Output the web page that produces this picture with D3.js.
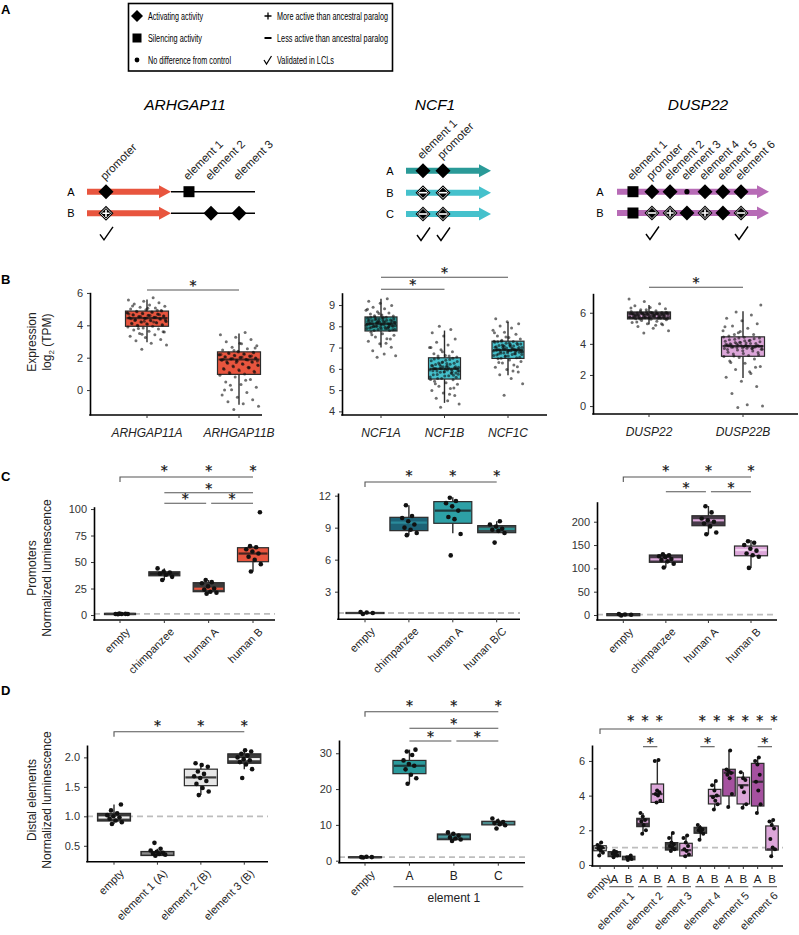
<!DOCTYPE html>
<html>
<head>
<meta charset="utf-8">
<script src="https://cdn.jsdelivr.net/npm/d3@7"></script>
<style>
  body { margin: 0; background: #fff; }
  svg { display: block; font-family: "Liberation Sans", Arial, sans-serif; }
</style>
</head>
<body>
<svg id="fig" width="799" height="935"></svg>
<script>
// ---------- A: locus schematics ----------
const arhRows = ["A", "B"];
const arhSites = ["promoter", "element 1", "element 2", "element 3"];
const arhSitePos = [0.113, 0.607, 0.738, 0.905];     // fraction along locus
const arhGeneEnd = 0.5;
const arhMarks = [["D", "S", "", ""], ["D+", "", "D", "D"]];
const arhChecks = ["promoter"];

const ncfRows = ["A", "B", "C"];
const ncfSites = ["element 1", "promoter"];
const ncfSitePos = [0.2, 0.435];
const ncfMarks = [["D", "D"], ["D-", "D-"], ["D-", "D-"]];
const ncfChecks = ["element 1", "promoter"];

const dusRows = ["A", "B"];
const dusSites = ["element 1", "promoter", "element 2", "element 3", "element 4", "element 5", "element 6"];
const dusSitePos = [0.105, 0.23, 0.349, 0.46, 0.579, 0.697, 0.816];
const dusMarks = [["S", "D", "D", "o", "D", "D", "D"], ["S", "D-", "D+", "D", "D+", "D", "D-"]];
const dusChecks = ["promoter", "element 6"];

// ---------- B: expression (log2 TPM) ----------
const b1Cats = ["ARHGAP11A", "ARHGAP11B"];
const b1Box = [[2.95, 3.94, 4.45, 4.88, 5.6], [-0.9, 0.97, 1.89, 2.36, 3.5]];
const b1Pts = [
  [2.52,2.78,2.9,3.05,3.12,3.24,3.33,3.41,3.5,3.58,3.64,3.71,3.77,3.83,3.9,3.95,4.0,4.04,4.09,4.13,4.18,4.22,4.27,4.31,4.35,4.4,4.43,4.47,4.5,4.54,4.58,4.62,4.66,4.7,4.74,4.78,4.83,4.87,4.91,4.96,5.01,5.07,5.12,5.18,5.25,5.31,5.4,5.48,5.57,5.7,
   3.98,4.02,4.06,4.1,4.15,4.19,4.24,4.29,4.33,4.38,4.42,4.46,4.49,4.53,4.57,4.61,4.64,4.68,4.72,4.76,4.8,4.84,4.88,4.45,4.4,4.5,4.55,4.35,4.6,4.3,4.65,4.25,4.7,4.2,3.8,3.6,5.05,5.2,4.93,3.45],
  [-1.2,-1.0,-0.85,-0.72,-0.6,-0.45,-0.3,-0.15,0.02,0.18,0.35,0.5,0.66,0.8,0.92,1.0,1.08,1.17,1.25,1.33,1.41,1.48,1.55,1.62,1.69,1.75,1.82,1.87,1.9,1.94,1.98,2.02,2.06,2.1,2.15,2.19,2.24,2.29,2.34,2.4,2.47,2.55,2.64,2.74,2.86,2.98,3.12,3.27,3.42,3.55,
   1.02,1.1,1.2,1.28,1.36,1.44,1.52,1.6,1.66,1.72,1.78,1.84,1.88,1.92,1.96,2.0,2.04,2.08,2.12,2.17,2.21,2.26,2.31,2.35,1.9,1.85,1.95,1.8,2.05,1.75,2.1,1.7,2.2,0.6,0.3,2.6,2.9,0.0,1.4,2.45]
];
const b2Cats = ["NCF1A", "NCF1B", "NCF1C"];
const b2Box = [[7.0, 7.78, 8.12, 8.44, 9.3], [4.4, 5.52, 6.0, 6.52, 7.8], [5.7, 6.49, 6.88, 7.3, 8.2]];
const b2Pts = [
  [6.55,6.62,6.7,6.85,7.02,7.18,7.3,7.41,7.5,7.58,7.65,7.72,7.8,7.85,7.9,7.95,7.99,8.03,8.07,8.1,8.12,8.15,8.18,8.22,8.26,8.3,8.34,8.38,8.42,8.44,8.48,8.53,8.58,8.63,8.69,8.75,8.82,8.9,8.98,9.08,9.18,9.3,8.0,8.2,8.3,7.95,8.05,8.25,8.1,7.88,
   7.8,7.84,7.88,7.92,7.96,8.0,8.04,8.08,8.12,8.16,8.2,8.24,8.28,8.32,8.36,8.4,8.43,8.1,8.15,8.05,8.2,8.0,8.25,7.95,8.3,7.9,8.35,7.85,8.4,7.6,7.4,8.6,8.8,7.2,8.5,8.0,8.1,8.15,7.98,8.22],
  [4.2,4.35,4.5,4.62,4.75,4.86,4.98,5.08,5.18,5.27,5.35,5.42,5.49,5.55,5.62,5.68,5.74,5.8,5.86,5.91,5.96,6.02,6.08,6.14,6.2,6.26,6.32,6.38,6.44,6.5,6.56,6.63,6.71,6.8,6.9,7.0,7.12,7.25,7.4,7.55,7.7,7.85,8.0,5.9,6.1,6.0,5.7,6.3,5.5,6.6,
   5.55,5.6,5.66,5.72,5.78,5.84,5.9,5.95,6.0,6.05,6.1,6.16,6.22,6.28,6.34,6.4,6.46,6.5,6.0,5.95,6.05,5.9,6.1,5.85,6.15,5.8,6.2,5.75,6.25,5.3,5.1,6.8,7.0,4.8,6.6,6.0,5.98,6.02,5.88,6.12],
  [4.76,5.3,5.55,5.72,5.85,5.97,6.08,6.18,6.27,6.35,6.42,6.48,6.52,6.58,6.63,6.68,6.73,6.78,6.83,6.87,6.91,6.95,7.0,7.05,7.1,7.15,7.2,7.25,7.29,7.34,7.4,7.47,7.55,7.63,7.72,7.82,7.92,8.02,8.12,8.22,8.35,6.9,7.0,6.8,7.1,6.7,7.2,6.6,7.3,6.95,
   6.5,6.55,6.6,6.65,6.7,6.75,6.8,6.85,6.9,6.94,6.98,7.02,7.07,7.12,7.17,7.22,7.27,6.88,6.92,6.84,6.96,6.8,7.0,6.76,7.04,6.72,7.08,6.68,7.14,6.3,6.1,7.5,7.7,5.9,7.3,6.9,6.86,6.94,6.82,7.06]
];
const b3Cats = ["DUSP22", "DUSP22B"];
const b3Box = [[5.25, 5.6, 5.8, 6.05, 6.5], [1.8, 3.2, 3.85, 4.45, 6.1]];
const b3Pts = [
  [4.7,4.85,5.0,5.12,5.22,5.3,5.38,5.45,5.5,5.55,5.58,5.62,5.65,5.68,5.71,5.74,5.77,5.79,5.81,5.84,5.87,5.9,5.93,5.96,5.99,6.02,6.04,6.08,6.13,6.19,6.26,6.34,6.45,6.58,6.72,6.88,5.8,5.85,5.75,5.9,5.7,5.95,5.65,6.0,5.78,5.82,5.88,5.72,5.92,5.86,
   5.6,5.63,5.66,5.69,5.72,5.75,5.78,5.8,5.83,5.86,5.89,5.92,5.95,5.98,6.01,6.03,5.8,5.76,5.84,5.74,5.86,5.7,5.9,5.68,5.94,5.64,5.97,5.62,6.0,5.4,5.3,6.2,6.3,5.2,6.1,5.8,5.79,5.81,5.77,5.83],
  [-0.1,0.0,0.08,0.8,1.25,1.6,1.85,2.1,2.35,2.55,2.75,2.9,3.02,3.12,3.18,3.25,3.35,3.45,3.55,3.63,3.7,3.77,3.83,3.88,3.95,4.02,4.09,4.16,4.23,4.3,4.37,4.43,4.5,4.6,4.72,4.85,5.0,5.15,5.3,5.48,5.65,5.85,6.05,6.5,3.9,4.0,3.8,4.1,3.7,4.2,
   3.22,3.3,3.38,3.46,3.54,3.6,3.66,3.72,3.78,3.84,3.9,3.96,4.02,4.08,4.14,4.2,4.26,4.32,4.38,4.44,3.85,3.8,3.9,3.75,3.95,3.7,4.0,3.65,4.05,2.8,2.5,4.8,5.1,2.2,4.6,3.85,3.82,3.88,3.78,3.92]
];

// ---------- C: promoters ----------
const c1Cats = ["empty", "chimpanzee", "human A", "human B"];
const c1Box = [[0.2, 0.4, 1, 1.6, 1.8], [33, 37, 39, 40.8, 44], [20, 22, 24.8, 30.5, 33], [41, 50.3, 58, 63.5, 65]];
const c1Pts = [[0.7, 0.9, 1, 1, 1.1, 1.3], [33, 36, 38, 39, 40, 41, 44], [20, 21, 22, 24, 25, 27, 30, 31, 33], [41, 48, 52, 55, 58, 60, 62, 64, 65, 97]];
const c2Cats = ["empty", "chimpanzee", "human A", "human B/C"];
const c2Box = [[0.9, 0.95, 1, 1.05, 1.1], [8.3, 8.72, 9.47, 9.97, 11.1], [8.47, 9.41, 10.6, 11.44, 11.85], [8.5, 8.53, 8.88, 9.19, 9.6]];
const c2Pts = [[0.9, 1, 1.05, 1.1], [8.3, 8.5, 8.8, 9.0, 9.3, 9.6, 9.9, 10.1, 11.1], [6.4, 8.4, 9.8, 10.0, 10.6, 11.0, 11.3, 11.5, 11.8], [7.6, 8.5, 8.7, 8.8, 8.9, 9.1, 9.3, 9.6]];
const c3Cats = ["empty", "chimpanzee", "human A", "human B"];
const c3Box = [[-2, -1.5, 1, 3, 4], [102, 113, 119.3, 128.6, 130], [173, 191.4, 203, 212.8, 233.6], [101, 127, 139.3, 147.9, 160.7]];
const c3Pts = [[-1, 0.5, 1, 2], [102, 110, 115, 118, 120, 124, 126, 128, 130], [173, 177, 190, 196, 200, 203, 207, 220, 233], [101, 125, 128, 132, 138, 142, 150, 155, 158]];

// ---------- D: distal elements ----------
const d1Cats = ["empty", "element 1 (A)", "element 2 (B)", "element 3 (B)"];
const d1Box = [[0.87, 0.92, 0.98, 1.05, 1.2], [0.33, 0.335, 0.37, 0.403, 0.45], [1.36, 1.52, 1.66, 1.8, 1.9], [1.8, 1.9, 1.97, 2.06, 2.12]];
const d1Pts = [[0.87,0.9,0.93,0.96,0.98,1.0,1.02,1.05,1.1,1.2], [0.33,0.35,0.36,0.37,0.38,0.4,0.42,0.45,0.55], [1.36,1.42,1.48,1.55,1.6,1.65,1.68,1.72,1.76,1.84,1.87,1.9], [1.65,1.8,1.88,1.92,1.95,1.97,2.0,2.03,2.06,2.1,2.12]];
const d2Cats = ["empty", "A", "B", "C"];
const d2Box = [[0.8, 0.9, 1, 1.1, 1.2], [21.5, 24.3, 26.5, 28, 31], [5.5, 5.87, 6.7, 7.46, 7.9], [9.9, 10, 10.5, 11, 11.8]];
const d2Pts = [[0.9, 1, 1.1, 1.0], [21.5, 23, 24, 25.5, 26.5, 27, 28, 29.5, 30.5, 31], [5.5, 5.9, 6.2, 6.5, 7.0, 7.5, 7.9], [9.0, 9.9, 10.2, 10.5, 10.8, 11.0, 11.8]];
const d3Elements = ["element 1", "element 2", "element 3", "element 4", "element 5", "element 6"];
const d3Alleles = ["A", "B"];
const d3Cats = ["empty"].concat(...d3Elements.map((e, i) => d3Alleles.map(a => (i + 1) + a)));
const d3Box = [
  [0.55, 0.82, 0.97, 1.11, 1.3], [0.45, 0.48, 0.62, 0.77, 0.8], [0.28, 0.3, 0.38, 0.5, 0.55],
  [1.8, 2.21, 2.5, 2.69, 3.0], [3.6, 3.61, 4.09, 4.67, 6.05], [0.8, 0.86, 1.1, 1.29, 1.85],
  [0.5, 0.52, 0.85, 1.25, 1.7], [1.45, 1.83, 2.0, 2.17, 2.3], [3.2, 3.52, 3.98, 4.36, 4.85],
  [3.35, 3.98, 5.32, 5.52, 6.6], [3.3, 3.52, 4.6, 5.06, 5.35], [3.0, 3.4, 4.8, 5.86, 6.2],
  [0.5, 0.86, 0.9, 2.25, 2.6]
];
const d3Pts = [
  [0.55,0.7,0.85,0.95,1.0,1.05,1.15,1.3], [0.45,0.55,0.6,0.65,0.75,0.8], [0.28,0.35,0.4,0.45,0.55],
  [1.8,2.0,2.3,2.5,2.6,2.8,3.0], [3.6,3.7,4.0,4.1,4.2,4.3,6.0,6.05], [0.8,0.9,1.0,1.1,1.2,1.3,1.55,1.85],
  [0.5,0.6,0.8,0.9,1.1,1.3,1.55,1.7], [1.45,1.8,1.9,2.0,2.05,2.15,2.3], [3.2,3.5,3.7,3.9,4.0,4.3,4.6,4.85],
  [3.35,4.1,5.0,5.2,5.3,5.4,5.5,6.6], [3.3,3.5,4.2,4.5,4.9,5.0,5.35], [3.0,3.5,4.3,4.8,5.2,5.8,6.0,6.2],
  [0.5,0.9,1.0,1.5,2.1,2.3,2.5,2.6]
];

// significance: groups different from "empty", and pairwise [a, b, level]
const b1Pairs = [["ARHGAP11A", "ARHGAP11B", 0]];
const b2Pairs = [["NCF1A", "NCF1C", 0], ["NCF1A", "NCF1B", 1]];
const b3Pairs = [["DUSP22", "DUSP22B", 0]];
const c1VsEmpty = ["chimpanzee", "human A", "human B"];
const c1Pairs = [["chimpanzee", "human B", 1], ["chimpanzee", "human A", 2], ["human A", "human B", 2]];
const c2VsEmpty = ["chimpanzee", "human A", "human B/C"];
const c3VsEmpty = ["chimpanzee", "human A", "human B"];
const c3Pairs = [["chimpanzee", "human A", 1], ["human A", "human B", 1]];
const d1VsEmpty = ["element 1 (A)", "element 2 (B)", "element 3 (B)"];
const d2VsEmpty = ["A", "B", "C"];
const d2Pairs = [["A", "C", 1], ["A", "B", 2], ["B", "C", 2]];
const d3VsEmpty = ["1B", "2A", "2B", "4A", "4B", "5A", "5B", "6A", "6B"];
const d3Pairs = [["2A", "2B", 1], ["4A", "4B", 1], ["6A", "6B", 1]];

// colours
const RED = "#e8553e", TEAL_D = "#2a9a98", TEAL_L = "#45c1cc", PURPLE = "#b76bb6",
      PINK = "#dca6d9", PURPLE_M = "#a5519f", DARK = "#3b3b3b", INK = "#2b2b2b";

const svg = d3.select("#fig");

// ------------------------------------------------------------------ helpers
const jit = j => ((j * 0.6180339887 + 0.37) % 1) - 0.5;

// a hairline stroke makes the glyph render as a path (plain grey antialiasing)
function star(g, x, yc) {
  g.append("text").attr("x", x).attr("y", yc + 7.3)
    .attr("text-anchor", "middle").attr("font-family", "DejaVu Sans")
    .attr("font-size", 14).attr("fill", "#111")
    .attr("stroke", "#111").attr("stroke-width", 0.25).text("*");
}

function hbar(g, x1, x2, y, tick) {
  const p = tick ? `M${x1},${y + 5}V${y}H${x2}` : `M${x1},${y}H${x2}`;
  g.append("path").attr("d", p).attr("fill", "none").attr("stroke", "#555").attr("stroke-width", 1.1);
}

function rotLabel(g, txt, x, y, fs) {
  g.append("text").attr("transform", `translate(${x},${y}) rotate(-45)`)
    .attr("text-anchor", "end").attr("dy", "0.71em")
    .attr("font-size", fs).attr("fill", "#222").text(txt);
}

function boxPanel(o) {
  const g = svg.append("g");
  const x = d3.scalePoint().domain(o.cats).range(o.xr);
  const y = d3.scaleLinear().domain(o.yd).range([o.yb, o.yt]);

  if (o.dash != null) {
    g.append("line").attr("x1", o.ax[0]).attr("x2", o.ax[1])
      .attr("y1", y(o.dash)).attr("y2", y(o.dash))
      .attr("stroke", "#bdbdbd").attr("stroke-width", 1.8).attr("stroke-dasharray", "6,4");
  }

  o.cats.forEach((c, i) => {
    const [lo, q1, md, q3, hi] = o.box[i];
    const cx = x(c), w = o.bw;
    g.append("line").attr("x1", cx).attr("x2", cx).attr("y1", y(lo)).attr("y2", y(hi))
      .attr("stroke", INK).attr("stroke-width", 1.4);
    g.append("rect").attr("x", cx - w / 2).attr("y", y(q3))
      .attr("width", w).attr("height", Math.max(1, y(q1) - y(q3)))
      .attr("fill", o.fill[i]).attr("stroke", INK).attr("stroke-width", 1.2);
    g.append("line").attr("x1", cx - w / 2 + 1).attr("x2", cx + w / 2 - 1)
      .attr("y1", y(md)).attr("y2", y(md))
      .attr("stroke", o.med[i]).attr("stroke-width", 2.2);
    g.selectAll(null).data(o.pts[i]).enter().append("circle")
      .attr("cx", (v, j) => cx + jit(j) * o.jw)
      .attr("cy", v => y(v))
      .attr("r", o.r)
      .attr("fill", "#111")
      .attr("fill-opacity", o.op);
  });

  // axes
  const ya = g.append("g").attr("transform", `translate(${o.ax[0]},0)`)
    .call(d3.axisLeft(y).tickValues(o.ticks).tickSize(3).tickPadding(4).tickSizeOuter(0)
      .tickFormat(o.fmt || d3.format("")));
  ya.attr("font-family", null).attr("font-size", 11);
  ya.select(".domain").attr("stroke", "#000").attr("stroke-width", 1.6);
  ya.selectAll(".tick line").attr("stroke", "#333");
  ya.selectAll(".tick text").attr("fill", "#333");

  g.append("line").attr("x1", o.ax[0] - 0.8).attr("x2", o.ax[1])
    .attr("y1", o.yb).attr("y2", o.yb).attr("stroke", "#000").attr("stroke-width", 1.6);
  g.selectAll(null).data(o.cats).enter().append("line")
    .attr("x1", c => x(c)).attr("x2", c => x(c))
    .attr("y1", o.yb).attr("y2", o.yb + 3).attr("stroke", "#333");

  return { g, x, y };
}

function sigMarks(p, o) {
  const { g, x } = p;
  if (o.vs) {
    hbar(g, x(p.x.domain()[0]), x(o.vs[o.vs.length - 1]), o.ys[0], true);
    o.vs.forEach(c => star(g, x(c) + (o.starShift || 0), o.ys[0] - (o.starGap || 9)));
  }
  (o.pairs || []).forEach(([a, b, lv]) => {
    const x1 = x(a) + (o.pairs.some(q => q[2] === lv && q[1] === a) ? 2.5 : 0);
    const x2 = x(b) - (o.pairs.some(q => q[2] === lv && q[0] === b) ? 2.5 : 0);
    hbar(g, x1, x2, o.ys[lv], false);
    star(g, (x1 + x2) / 2, o.ys[lv] - 7.5);
  });
}

function yTitle(lines, cy) {
  lines.forEach((l, i) => {
    const t = svg.append("text")
      .attr("transform", `translate(${36 + i * 15},${cy}) rotate(-90)`)
      .attr("text-anchor", "middle").attr("font-size", 12).attr("fill", "#222");
    if (typeof l === "string") t.text(l); else l(t);
  });
}

function panelLetter(t, y) {
  svg.append("text").attr("x", 1).attr("y", y).attr("font-size", 13)
    .attr("font-weight", "bold").text(t);
}

// ------------------------------------------------------------------ panel A
panelLetter("A", 14);

const leg = svg.append("g");
leg.append("rect").attr("x", 128.5).attr("y", 3.5).attr("width", 264).attr("height", 67.5)
  .attr("fill", "none").attr("stroke", "#000").attr("stroke-width", 1.6);
const legRows = [16, 38, 60];
const legLeft = [["Activating activity", 55], ["Silencing activity", 54], ["No difference from control", 83]];
const legRight = [["More active than ancestral paralog", 111], ["Less active than ancestral paralog", 111], ["Validated in LCLs", 57]];
legLeft.forEach(([t, w], i) => leg.append("text").attr("x", 148).attr("y", legRows[i] + 3.6)
  .attr("font-size", 10).attr("textLength", w).attr("lengthAdjust", "spacingAndGlyphs").text(t));
legRight.forEach(([t, w], i) => leg.append("text").attr("x", 277).attr("y", legRows[i] + 3.6)
  .attr("font-size", 10).attr("textLength", w).attr("lengthAdjust", "spacingAndGlyphs").text(t));
leg.append("path").attr("d", `M137,${legRows[0] - 6}L143,${legRows[0]}L137,${legRows[0] + 6}L131,${legRows[0]}Z`);
leg.append("rect").attr("x", 132.5).attr("y", legRows[1] - 4.5).attr("width", 9).attr("height", 9);
leg.append("circle").attr("cx", 137).attr("cy", legRows[2]).attr("r", 2.4);
leg.append("path").attr("d", `M264.5,${legRows[0]}h7M268,${legRows[0] - 3.5}v7`).attr("stroke", "#000").attr("stroke-width", 1.3);
leg.append("path").attr("d", `M264.5,${legRows[1]}h7`).attr("stroke", "#000").attr("stroke-width", 2);
leg.append("path").attr("d", `M264,${legRows[2]}l2.5,4l5,-8`).attr("fill", "none").attr("stroke", "#000").attr("stroke-width", 1.2);

function mark(g, t, x, y) {
  if (!t) return;
  if (t[0] === "D") {
    const s = 7.5;
    g.append("path").attr("d", `M${x},${y - s}L${x + s},${y}L${x},${y + s}L${x - s},${y}Z`).attr("fill", "#000");
    if (t.length > 1) {
      const s2 = 5.6;
      g.append("path").attr("d", `M${x},${y - s2}L${x + s2},${y}L${x},${y + s2}L${x - s2},${y}Z`)
        .attr("fill", "none").attr("stroke", "#fff").attr("stroke-width", 0.8);
      g.append("path").attr("d", t[1] === "+" ? `M${x - 3.6},${y}h7.2M${x},${y - 3.6}v7.2` : `M${x - 4},${y}h8`)
        .attr("stroke", "#fff").attr("stroke-width", 1.6);
    }
  } else if (t === "S") {
    g.append("rect").attr("x", x - 5.5).attr("y", y - 5.5).attr("width", 11).attr("height", 11);
  } else if (t === "o") {
    g.append("circle").attr("cx", x).attr("cy", y).attr("r", 2.6);
  }
}

function check(g, x, y) {
  g.append("path").attr("d", `M${x - 6},${y}l4,5.5l9,-13`).attr("fill", "none")
    .attr("stroke", "#000").attr("stroke-width", 1.4);
}

function locus(o) {
  const g = svg.append("g");
  const xs = d3.scaleLinear().domain([0, 1]).range(o.span);
  g.append("text").attr("x", o.titleX).attr("y", 110).attr("text-anchor", "middle")
    .attr("font-size", 15.5).attr("font-style", "italic").text(o.title);
  o.rows.forEach((r, i) => {
    const yy = o.rowY[i];
    g.append("text").attr("x", o.labX).attr("y", yy + 4).attr("text-anchor", "middle")
      .attr("font-size", 11).text(r);
    const x1 = xs(o.geneEnd);
    if (o.geneEnd < 1) {
      g.append("line").attr("x1", x1).attr("x2", xs(1)).attr("y1", yy).attr("y2", yy)
        .attr("stroke", "#000").attr("stroke-width", 1.5);
    }
    const x0 = xs(0);
    g.append("path").attr("d", `M${x0},${yy - 3}H${x1 - 12}V${yy - 6.5}L${x1},${yy}L${x1 - 12},${yy + 6.5}V${yy + 3}H${x0}Z`)
      .attr("fill", o.colors[i]);
    o.marks[i].forEach((m, k) => mark(g, m, xs(o.pos[k]), yy));
  });
  o.sites.forEach((s, k) => {
    g.append("text").attr("transform", `translate(${xs(o.pos[k]) - 1},${o.rowY[0] - 11}) rotate(-45)`)
      .attr("font-size", 11.5).attr("fill", "#222").text(s);
  });
  o.checks.forEach(c => check(g, xs(o.pos[o.sites.indexOf(c)]), o.rowY[o.rowY.length - 1] + 21));
}

locus({ title: "ARHGAP11", titleX: 185, span: [87, 255], geneEnd: arhGeneEnd, rows: arhRows, rowY: [191.7, 213.3],
  labX: 71, colors: [RED, RED], sites: arhSites, pos: arhSitePos, marks: arhMarks, checks: arhChecks });
locus({ title: "NCF1", titleX: 435, span: [406, 491], geneEnd: 1, rows: ncfRows, rowY: [170.7, 192.7, 214],
  labX: 390, colors: [TEAL_D, TEAL_L, TEAL_L], sites: ncfSites, pos: ncfSitePos, marks: ncfMarks, checks: ncfChecks });
locus({ title: "DUSP22", titleX: 698, span: [617, 769], geneEnd: 1, rows: dusRows, rowY: [191.7, 213],
  labX: 600, colors: [PURPLE, PURPLE], sites: dusSites, pos: dusSitePos, marks: dusMarks, checks: dusChecks });

// ------------------------------------------------------------------ panel B
panelLetter("B", 284);
yTitle(["Expression", t => {
  t.append("tspan").text("log");
  t.append("tspan").attr("font-size", 8).attr("dy", 3).text("2");
  t.append("tspan").attr("dy", -3).text(" (TPM)");
}], 342);

function italicX(p, yb) {
  p.g.selectAll(null).data(p.x.domain()).enter().append("text")
    .attr("x", c => p.x(c)).attr("y", yb + 21.5).attr("text-anchor", "middle")
    .attr("font-size", 12).attr("font-style", "italic").attr("fill", "#222").text(c => c);
}

const pb1 = boxPanel({ cats: b1Cats, box: b1Box, pts: b1Pts, xr: [147, 239], ax: [90, 262], yd: [-1.54, 6.04], yb: 415, yt: 292.3,
  ticks: [0, 2, 4, 6], bw: 43, jw: 40, r: 1.5, op: 0.6, fill: [RED, RED], med: ["#4a2520", "#4a2520"] });
italicX(pb1, 415);
sigMarks(pb1, { pairs: b1Pairs, ys: [290] });

const pb2 = boxPanel({ cats: b2Cats, box: b2Box, pts: b2Pts, xr: [381, 508], ax: [342, 547], yd: [3.83, 9.58], yb: 415, yt: 292.7,
  ticks: [4, 5, 6, 7, 8, 9], bw: 32, jw: 30, r: 1.5, op: 0.6, fill: [TEAL_D, TEAL_L, TEAL_L], med: ["#1d3b3b", "#1d3b3b", "#1d3b3b"] });
italicX(pb2, 415);
sigMarks(pb2, { pairs: b2Pairs, ys: [277.3, 289.3] });

const pb3 = boxPanel({ cats: b3Cats, box: b3Box, pts: b3Pts, xr: [649, 743], ax: [593, 798], yd: [-0.51, 7.25], yb: 414, yt: 293.3,
  ticks: [0, 2, 4, 6], bw: 43, jw: 40, r: 1.5, op: 0.6, fill: ["#4a3d4b", PINK], med: [PINK, "#3a2f3a"] });
italicX(pb3, 414);
sigMarks(pb3, { pairs: b3Pairs, ys: [287.3] });

// ------------------------------------------------------------------ panel C
panelLetter("C", 481);
yTitle(["Promoters", "Normalized luminescence"], 568);

function rotX(p, yb) {
  p.x.domain().forEach(c => rotLabel(p.g, c, p.x(c) + 5, yb + 7, 11));
}

const pc1 = boxPanel({ cats: c1Cats, box: c1Box, pts: c1Pts, xr: [120, 253], ax: [94, 275], yd: [-4.7, 102.2], yb: 620, yt: 506.7,
  ticks: [0, 25, 50, 75, 100], bw: 31, jw: 16, r: 2.3, op: 1, dash: 1,
  fill: [DARK, DARK, DARK, RED], med: [DARK, "#222", RED, "#4a2520"] });
rotX(pc1, 620);
sigMarks(pc1, { vs: c1VsEmpty, pairs: c1Pairs, ys: [477, 492.7, 503.3], starGap: 9.5 });

const pc2 = boxPanel({ cats: c2Cats, box: c2Box, pts: c2Pts, xr: [365, 496.7], ax: [338, 520], yd: [0.41, 12.25], yb: 619.3, yt: 493,
  ticks: [3, 6, 9, 12], bw: 38, jw: 16, r: 2.3, op: 1, dash: 1,
  fill: [DARK, "#1d6276", "#2da0a6", "#3d4b4e"], med: [DARK, "#2a8a9a", "#1f3a3c", "#2a8f8f"] });
rotX(pc2, 619.3);
sigMarks(pc2, { vs: c2VsEmpty, ys: [482] });

const pc3 = boxPanel({ cats: c3Cats, box: c3Box, pts: c3Pts, xr: [623.3, 751], ax: [597, 777], yd: [-10.7, 242.9], yb: 620, yt: 501.7,
  ticks: [0, 50, 100, 150, 200], bw: 33, jw: 16, r: 2.3, op: 1, dash: 1,
  fill: [DARK, "#463a48", "#463a48", PINK], med: [DARK, PINK, PINK, "#f3d5f1"] });
rotX(pc3, 620);
sigMarks(pc3, { vs: c3VsEmpty, pairs: c3Pairs, ys: [477, 491.7] });

// ------------------------------------------------------------------ panel D
panelLetter("D", 695);
yTitle(["Distal elements", "Normalized luminescence"], 800);

const pd1 = boxPanel({ cats: d1Cats, box: d1Box, pts: d1Pts, xr: [114, 244.3], ax: [87, 268], yd: [0.23, 2.21], yb: 861.7, yt: 745,
  ticks: [0.5, 1.0, 1.5, 2.0], fmt: d3.format(".1f"), bw: 33, jw: 16, r: 2.3, op: 1, dash: 1,
  fill: [DARK, DARK, "#e6e6e6", DARK], med: ["#f2f2f2", "#8a8a8a", DARK, "#f2f2f2"] });
rotX(pd1, 861.7);
sigMarks(pd1, { vs: d1VsEmpty, ys: [731.7] });

const pd2 = boxPanel({ cats: d2Cats, box: d2Box, pts: d2Pts, xr: [365, 498.3], ax: [339, 525], yd: [-0.56, 33.7], yb: 862.7, yt: 740,
  ticks: [0, 10, 20, 30], bw: 33, jw: 14, r: 2.3, op: 1, dash: 1,
  fill: [DARK, "#2a9a9c", "#2f4c52", "#333d40"], med: [DARK, "#1d3b3d", "#4a9a9c", "#4a8a8c"] });
rotLabel(pd2.g, "empty", pd2.x("empty") + 5, 869.7, 11);
d2Cats.slice(1).forEach(c => pd2.g.append("text").attr("x", pd2.x(c)).attr("y", 880)
  .attr("text-anchor", "middle").attr("font-size", 12).attr("fill", "#222").text(c));
hbar(pd2.g, pd2.x("A") - 16, pd2.x("C") + 25, 886.7, false);
pd2.g.append("text").attr("x", pd2.x("B")).attr("y", 901.5).attr("text-anchor", "middle")
  .attr("font-size", 12).attr("fill", "#222").text("element 1");
sigMarks(pd2, { vs: d2VsEmpty, pairs: d2Pairs, ys: [711.7, 728.3, 741] });

const d3Fill = ["#f4f4f4", DARK, DARK, "#3d333d", PINK, DARK, PINK, DARK, PINK, PURPLE_M, PINK, PURPLE_M, PINK];
const d3Med = [DARK, "#555", "#555", PINK, "#3a2f3a", "#555", "#3a2f3a", "#555", "#3a2f3a", "#3a2f3a", "#3a2f3a", "#3a2f3a", "#3a2f3a"];
const pd3 = boxPanel({ cats: d3Cats, box: d3Box, pts: d3Pts, xr: [600, 772], ax: [592, 783], yd: [-0.06, 6.92], yb: 866, yt: 745,
  ticks: [0, 2, 4, 6], bw: 12.5, jw: 6, r: 2, op: 1, dash: 1, fill: d3Fill, med: d3Med });
rotLabel(pd3.g, "empty", pd3.x("empty") + 6, 873, 11);
d3Cats.slice(1).forEach(c => pd3.g.append("text").attr("x", pd3.x(c)).attr("y", 882.7)
  .attr("text-anchor", "middle").attr("font-size", 11.5).attr("fill", "#222").text(c.slice(-1)));
d3Elements.forEach((e, i) => {
  const a = pd3.x((i + 1) + "A"), b = pd3.x((i + 1) + "B");
  hbar(pd3.g, a - 5, b + 5, 886.7, false);
  rotLabel(pd3.g, e, b + 1, 891, 11);
});
sigMarks(pd3, { vs: d3VsEmpty, pairs: d3Pairs, ys: [729, 746.7], starGap: 11, starShift: 2 });
</script>
</body>
</html>
